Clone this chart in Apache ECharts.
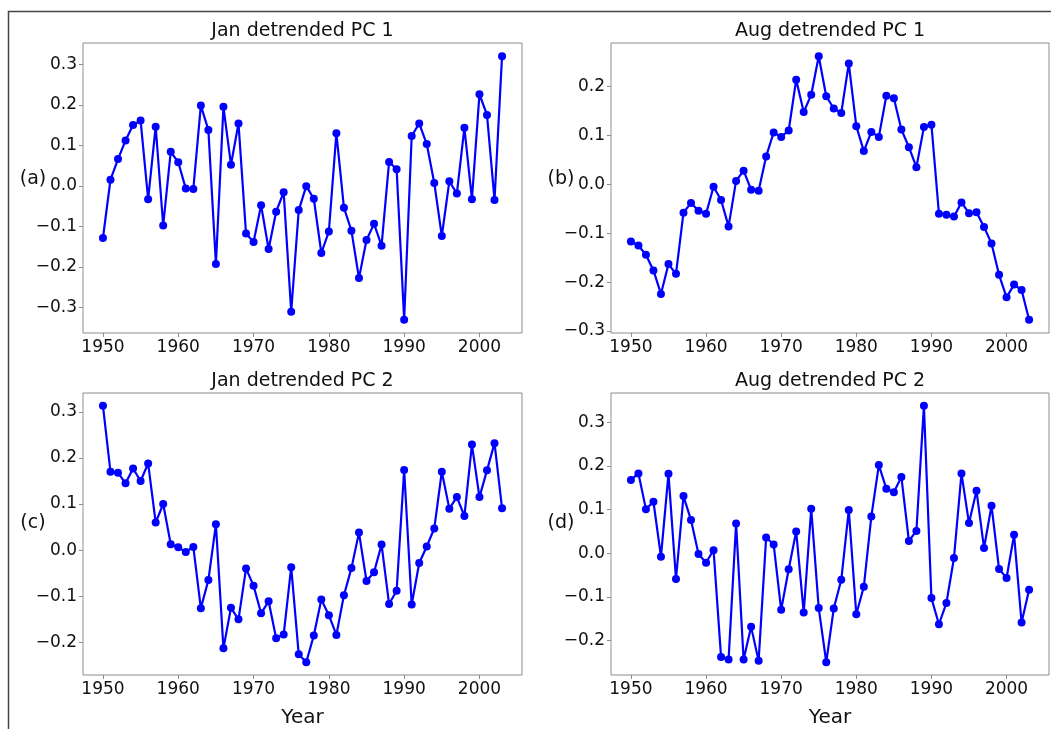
<!DOCTYPE html>
<html>
<head>
<meta charset="utf-8">
<script src="https://cdn.jsdelivr.net/npm/echarts@6/dist/echarts.min.js"></script>
<style>
  html, body { margin: 0; padding: 0; background: #fff; }
  #chart { width: 1051px; height: 729px; }
</style>
</head>
<body>
<div id="chart"></div>
<script>
// years 1950 - 2003
const years = [
  1950, 1951, 1952, 1953, 1954, 1955, 1956, 1957, 1958, 1959,
  1960, 1961, 1962, 1963, 1964, 1965, 1966, 1967, 1968, 1969,
  1970, 1971, 1972, 1973, 1974, 1975, 1976, 1977, 1978, 1979,
  1980, 1981, 1982, 1983, 1984, 1985, 1986, 1987, 1988, 1989,
  1990, 1991, 1992, 1993, 1994, 1995, 1996, 1997, 1998, 1999,
  2000, 2001, 2002, 2003
]

const janPC1 = [
  -0.129, 0.015, 0.066, 0.112, 0.150, 0.161, -0.033, 0.146, -0.098, 0.084,
  0.058, -0.007, -0.008, 0.198, 0.138, -0.193, 0.195, 0.052, 0.154, -0.118,
  -0.139, -0.048, -0.156, -0.064, -0.016, -0.311, -0.060, -0.001, -0.032, -0.166,
  -0.113, 0.130, -0.054, -0.111, -0.228, -0.134, -0.094, -0.148, 0.059, 0.041,
  -0.331, 0.123, 0.154, 0.103, 0.007, -0.124, 0.011, -0.019, 0.143, -0.033,
  0.226, 0.175, -0.035, 0.320
]
const augPC1 = [
  -0.117, -0.125, -0.144, -0.176, -0.224, -0.163, -0.183, -0.058, -0.038, -0.054,
  -0.060, -0.005, -0.032, -0.086, 0.007, 0.028, -0.011, -0.013, 0.057, 0.106,
  0.097, 0.110, 0.214, 0.148, 0.183, 0.262, 0.180, 0.155, 0.146, 0.247,
  0.119, 0.068, 0.107, 0.097, 0.181, 0.176, 0.112, 0.076, 0.035, 0.117,
  0.122, -0.060, -0.062, -0.066, -0.037, -0.059, -0.057, -0.087, -0.121, -0.185,
  -0.231, -0.205, -0.216, -0.277
]
const janPC2 = [
  0.313, 0.170, 0.168, 0.145, 0.177, 0.150, 0.188, 0.060, 0.100, 0.013,
  0.006, -0.004, 0.007, -0.126, -0.065, 0.056, -0.213, -0.125, -0.150, -0.040,
  -0.077, -0.137, -0.111, -0.191, -0.183, -0.037, -0.226, -0.243, -0.185, -0.107,
  -0.141, -0.184, -0.098, -0.039, 0.038, -0.067, -0.048, 0.012, -0.117, -0.088,
  0.174, -0.118, -0.028, 0.008, 0.047, 0.170, 0.090, 0.115, 0.074, 0.229,
  0.115, 0.173, 0.232, 0.091
]
const augPC2 = [
  0.168, 0.183, 0.101, 0.118, -0.008, 0.182, -0.059, 0.131, 0.076, -0.002,
  -0.022, 0.007, -0.238, -0.244, 0.068, -0.244, -0.169, -0.247, 0.036, 0.020,
  -0.130, -0.037, 0.050, -0.136, 0.102, -0.126, -0.250, -0.127, -0.061, 0.099,
  -0.140, -0.077, 0.084, 0.202, 0.148, 0.140, 0.175, 0.028, 0.051, 0.338,
  -0.103, -0.163, -0.114, -0.011, 0.183, 0.069, 0.143, 0.012, 0.109, -0.036,
  -0.057, 0.042, -0.159, -0.084
]

const yearTicks = [1950, 1960, 1970, 1980, 1990, 2000]
const ticksA = [-0.3, -0.2, -0.1, 0, 0.1, 0.2, 0.3]
const ticksB = [-0.3, -0.2, -0.1, 0, 0.1, 0.2]
const ticksC = [-0.2, -0.1, 0, 0.1, 0.2, 0.3]
const ticksD = [-0.2, -0.1, 0, 0.1, 0.2, 0.3]

const titles = ['Jan detrended PC 1', 'Aug detrended PC 1', 'Jan detrended PC 2', 'Aug detrended PC 2']
const panelTags = ['(a)', '(b)', '(c)', '(d)']

const FONT = '"DejaVu Sans", sans-serif'
const SPINE = '#8c8c8c'

const panels = [
  { vals: janPC1, ticks: ticksA, box: { left: 83, top: 43, width: 439, height: 290 }, year: false },
  { vals: augPC1, ticks: ticksB, box: { left: 611, top: 43, width: 438, height: 290 }, year: false },
  { vals: janPC2, ticks: ticksC, box: { left: 83, top: 393, width: 439, height: 290 }, year: true },
  { vals: augPC2, ticks: ticksD, box: { left: 611, top: 393, width: 438, height: 290 }, year: true }
]

// matplotlib-like 5% margins
const padRange = (arr) => {
  const lo = Math.min(...arr), hi = Math.max(...arr)
  const m = (hi - lo) * 0.05
  return [lo - m, hi + m]
}
const xr = padRange(years)

const fmtY = (v) => (v < -1e-9 ? '\u2212' : '') + Math.abs(v).toFixed(1)

const grid = [], xAxis = [], yAxis = [], series = [], graphic = []

panels.forEach((p, i) => {
  grid.push(Object.assign({
    show: true,
    borderColor: SPINE,
    borderWidth: 1,
    backgroundColor: 'transparent',
    containLabel: false
  }, p.box))

  const yr = padRange(p.vals)

  xAxis.push({
    type: 'value',
    gridIndex: i,
    min: xr[0],
    max: xr[1],
    name: p.year ? 'Year' : '',
    nameLocation: 'middle',
    nameGap: 33,
    nameTextStyle: { fontFamily: FONT, fontSize: 20, color: '#111' },
    axisLine: { show: false, onZero: false },
    splitLine: { show: false },
    axisTick: { show: true, customValues: yearTicks, length: 4, lineStyle: { color: SPINE } },
    axisLabel: {
      customValues: yearTicks,
      fontFamily: FONT, fontSize: 17, color: '#111', margin: 6,
      formatter: (v) => String(Math.round(v))
    }
  })

  yAxis.push({
    type: 'value',
    gridIndex: i,
    min: yr[0],
    max: yr[1],
    axisLine: { show: false, onZero: false },
    splitLine: { show: false },
    axisTick: { show: true, customValues: p.ticks, length: 4, lineStyle: { color: SPINE } },
    axisLabel: {
      customValues: p.ticks,
      fontFamily: FONT, fontSize: 17, color: '#111', margin: 6,
      formatter: fmtY
    }
  })

  series.push({
    type: 'line',
    xAxisIndex: i,
    yAxisIndex: i,
    data: years.map((y, k) => [y, p.vals[k]]),
    symbol: 'circle',
    symbolSize: 8,
    showAllSymbol: true,
    lineStyle: { color: '#0000ff', width: 2.2 },
    itemStyle: { color: '#0000ff' },
    animation: false
  })

  graphic.push({
    type: 'text',
    x: p.box.left + p.box.width / 2,
    y: p.box.top - 12,
    style: {
      text: titles[i], fontFamily: FONT, fontSize: 19, fill: '#111',
      textAlign: 'center', textVerticalAlign: 'middle'
    }
  })
  graphic.push({
    type: 'text',
    x: p.box.left - 50,
    y: p.box.top + (i < 2 ? 136 : 130),
    style: {
      text: panelTags[i], fontFamily: FONT, fontSize: 19, fill: '#111',
      textAlign: 'center', textVerticalAlign: 'middle'
    }
  })
})

// outer frame of the figure
graphic.push({
  type: 'rect',
  shape: { x: 8.5, y: 11.5, width: 1100, height: 800 },
  style: { fill: null, stroke: '#444', lineWidth: 1.5 },
  silent: true
})

const chart = echarts.init(document.getElementById('chart'))
chart.setOption({
  animation: false,
  backgroundColor: '#fff',
  grid, xAxis, yAxis, series, graphic
})
</script>
</body>
</html>
